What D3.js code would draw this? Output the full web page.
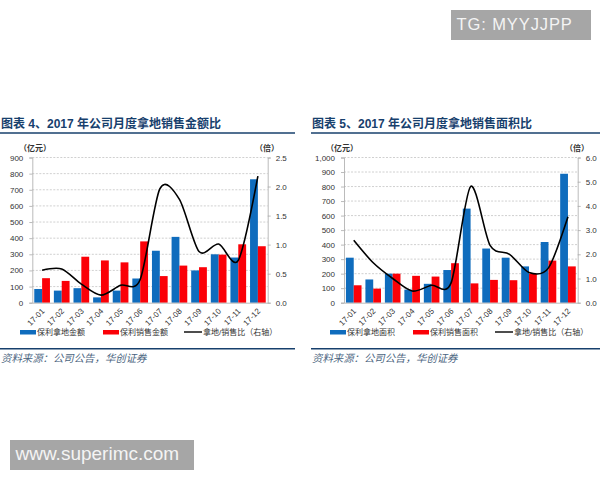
<!DOCTYPE html>
<html>
<head>
<meta charset="utf-8">
<script src="https://cdnjs.cloudflare.com/ajax/libs/d3/7.8.5/d3.min.js"></script>
<style>
  html, body { margin: 0; padding: 0; background: #fff; }
  text { font-family: "Liberation Sans", "Noto Sans CJK SC", sans-serif; }
</style>
</head>
<body>
<svg width="600" height="480"></svg>
<script>
const months = ['17-01','17-02','17-03','17-04','17-05','17-06','17-07','17-08','17-09','17-10','17-11','17-12'];

// 图表 4
const landAmount = [85, 75, 90, 33, 75, 150, 322, 408, 200, 300, 280, 765];
const salesAmount = [152, 135, 285, 262, 250, 380, 165, 230, 220, 298, 362, 350];
const amountRatio = [0.56, 0.58, 0.32, 0.13, 0.30, 0.40, 1.96, 1.78, 0.88, 1.01, 0.73, 2.18];
const amountTicks = [0, 100, 200, 300, 400, 500, 600, 700, 800, 900];
const amountRatioTicks = [0, 0.5, 1, 1.5, 2, 2.5];

// 图表 5
const landArea = [310, 160, 200, 90, 130, 225, 648, 373, 310, 250, 418, 888];
const salesArea = [120, 97, 200, 185, 180, 272, 133, 157, 155, 200, 290, 250];
const areaRatio = [2.58, 1.65, 1.0, 0.48, 0.72, 0.82, 4.8, 2.37, 2.0, 1.25, 1.44, 3.55];
const areaTicks = [0, 100, 200, 300, 400, 500, 600, 700, 800, 900, 1000];
const areaRatioTicks = [0, 1, 2, 3, 4, 5, 6];

const BLUE = '#0f6cbd', RED = '#fb0007', NAVY = '#17406d', TXT = '#333';
const svg = d3.select('svg');

function drawChart(c) {
  const g = svg.append('g');
  const top = 157.5, bottom = 302.7;

  const x = d3.scaleBand().domain(months).range([c.left, c.right]).paddingInner(0.2).paddingOuter(0.1);
  const inner = d3.scaleBand().domain([0, 1]).range([0, x.bandwidth()]);
  const y = d3.scaleLinear().domain([0, d3.max(c.ticks)]).range([bottom, top]);
  const y2 = d3.scaleLinear().domain([0, d3.max(c.ratioTicks)]).range([bottom, top]);

  // title + rules
  g.append('text').attr('x', c.titleX).attr('y', 128)
    .attr('font-size', 12).attr('font-weight', 'bold').attr('fill', NAVY)
    .text(c.title);
  [133, 348.7].forEach(ry => g.append('line')
    .attr('x1', c.ruleX1).attr('x2', c.ruleX2).attr('y1', ry).attr('y2', ry)
    .attr('stroke', NAVY).attr('stroke-width', 1.4));
  g.append('text').attr('x', c.titleX).attr('y', 362)
    .attr('font-size', 10.4).attr('font-style', 'italic').attr('fill', '#4a6480')
    .text('资料来源：公司公告，华创证券');

  // grid
  g.append('g').selectAll('line').data(c.ticks.slice(1)).join('line')
    .attr('x1', c.left).attr('x2', c.right)
    .attr('y1', d => y(d)).attr('y2', d => y(d))
    .attr('stroke', '#c4c4c4').attr('stroke-width', 0.8).attr('stroke-dasharray', '2,1.5');

  // bars
  [[c.land, BLUE, 0], [c.sales, RED, 1]].forEach(([vals, col, k]) => {
    g.append('g').selectAll('rect').data(vals).join('rect')
      .attr('x', (d, i) => x(months[i]) + inner(k))
      .attr('width', inner.bandwidth())
      .attr('y', d => y(d))
      .attr('height', d => bottom - y(d))
      .attr('fill', col);
  });

  // axes
  const ax = g.append('g').attr('transform', `translate(0,${bottom})`)
    .call(d3.axisBottom(x).tickSize(0));
  ax.selectAll('text').attr('font-size', 8).attr('fill', TXT)
    .attr('text-anchor', 'end').attr('x', 0).attr('y', 0).attr('dy', '0.35em')
    .attr('transform', 'translate(1,7) rotate(-45)');

  const ay = g.append('g').attr('transform', `translate(${c.left},0)`)
    .call(d3.axisLeft(y).tickValues(c.ticks).tickFormat(d3.format(',')).tickSize(3).tickPadding(6));
  ay.selectAll('text').attr('font-size', 8).attr('fill', TXT);

  const ay2 = g.append('g').attr('transform', `translate(${c.right},0)`)
    .call(d3.axisRight(y2).tickValues(c.ratioTicks).tickFormat(d3.format('.1f')).tickSize(3).tickPadding(5));
  ay2.selectAll('text').attr('font-size', 8).attr('fill', TXT);

  [ax, ay, ay2].forEach(a => {
    a.selectAll('path').attr('stroke', '#aaa').attr('stroke-width', 0.8);
    a.selectAll('line').attr('stroke', '#aaa').attr('stroke-width', 0.8);
    a.attr('font-family', null);
  });

  // ratio line
  const line = d3.line()
    .x((d, i) => x(months[i]) + x.bandwidth() / 2)
    .y(d => y2(d))
    .curve(d3.curveCardinal.tension(0.15));
  g.append('path').datum(c.ratio).attr('d', line)
    .attr('fill', 'none').attr('stroke', '#000').attr('stroke-width', 1.6);

  // unit labels
  g.append('text').attr('x', c.unitL).attr('y', 151).attr('font-size', 8).attr('font-weight', 'bold')
    .attr('fill', TXT).text('（亿元）');
  g.append('text').attr('x', c.unitR).attr('y', 151).attr('font-size', 8).attr('font-weight', 'bold')
    .attr('fill', TXT).text('（倍）');

  // legend
  const ly = 332;
  g.append('rect').attr('x', c.leg[0]).attr('y', ly - 2).attr('width', 16).attr('height', 4.5).attr('fill', BLUE);
  g.append('text').attr('x', c.leg[0] + 17).attr('y', ly + 3).attr('font-size', 8).attr('fill', TXT).text(c.landName);
  g.append('rect').attr('x', c.leg[1]).attr('y', ly - 2).attr('width', 16).attr('height', 4.5).attr('fill', RED);
  g.append('text').attr('x', c.leg[1] + 17).attr('y', ly + 3).attr('font-size', 8).attr('fill', TXT).text(c.salesName);
  g.append('line').attr('x1', c.leg[2]).attr('x2', c.leg[2] + 18).attr('y1', ly).attr('y2', ly)
    .attr('stroke', '#000').attr('stroke-width', 1.4);
  g.append('text').attr('x', c.leg[2] + 19).attr('y', ly + 3).attr('font-size', 8).attr('fill', TXT).text('拿地/销售比（右轴）');
}

drawChart({
  title: '图表 4、2017 年公司月度拿地销售金额比', titleX: 1, ruleX1: 0, ruleX2: 295,
  left: 32.3, right: 267.7, unitL: 19, unitR: 255,
  land: landAmount, sales: salesAmount, ratio: amountRatio,
  ticks: amountTicks, ratioTicks: amountRatioTicks,
  landName: '保利拿地金额', salesName: '保利销售金额', leg: [20, 103, 184]
});
drawChart({
  title: '图表 5、2017 年公司月度拿地销售面积比', titleX: 312, ruleX1: 311, ruleX2: 600,
  left: 344, right: 577.7, unitL: 326, unitR: 565,
  land: landArea, sales: salesArea, ratio: areaRatio,
  ticks: areaTicks, ratioTicks: areaRatioTicks,
  landName: '保利拿地面积', salesName: '保利销售面积', leg: [330, 413, 495]
});

// watermarks
const marks = [
  { x: 451, y: 10, w: 140, h: 30, label: 'TG: MYYJJPP', tx: 456.5, ty: 30, size: 16.5, gap: 0.9 },
  { x: 10, y: 440, w: 184, h: 30, label: 'www.superimc.com', tx: 15.5, ty: 460, size: 19, gap: 0 }
];
marks.forEach(m => {
  svg.append('rect').attr('x', m.x).attr('y', m.y).attr('width', m.w).attr('height', m.h).attr('fill', '#a6a6a6');
  svg.append('text').attr('x', m.tx).attr('y', m.ty).attr('font-size', m.size)
    .attr('letter-spacing', m.gap).attr('fill', '#f4f4f4').text(m.label);
});
</script>
</body>
</html>
